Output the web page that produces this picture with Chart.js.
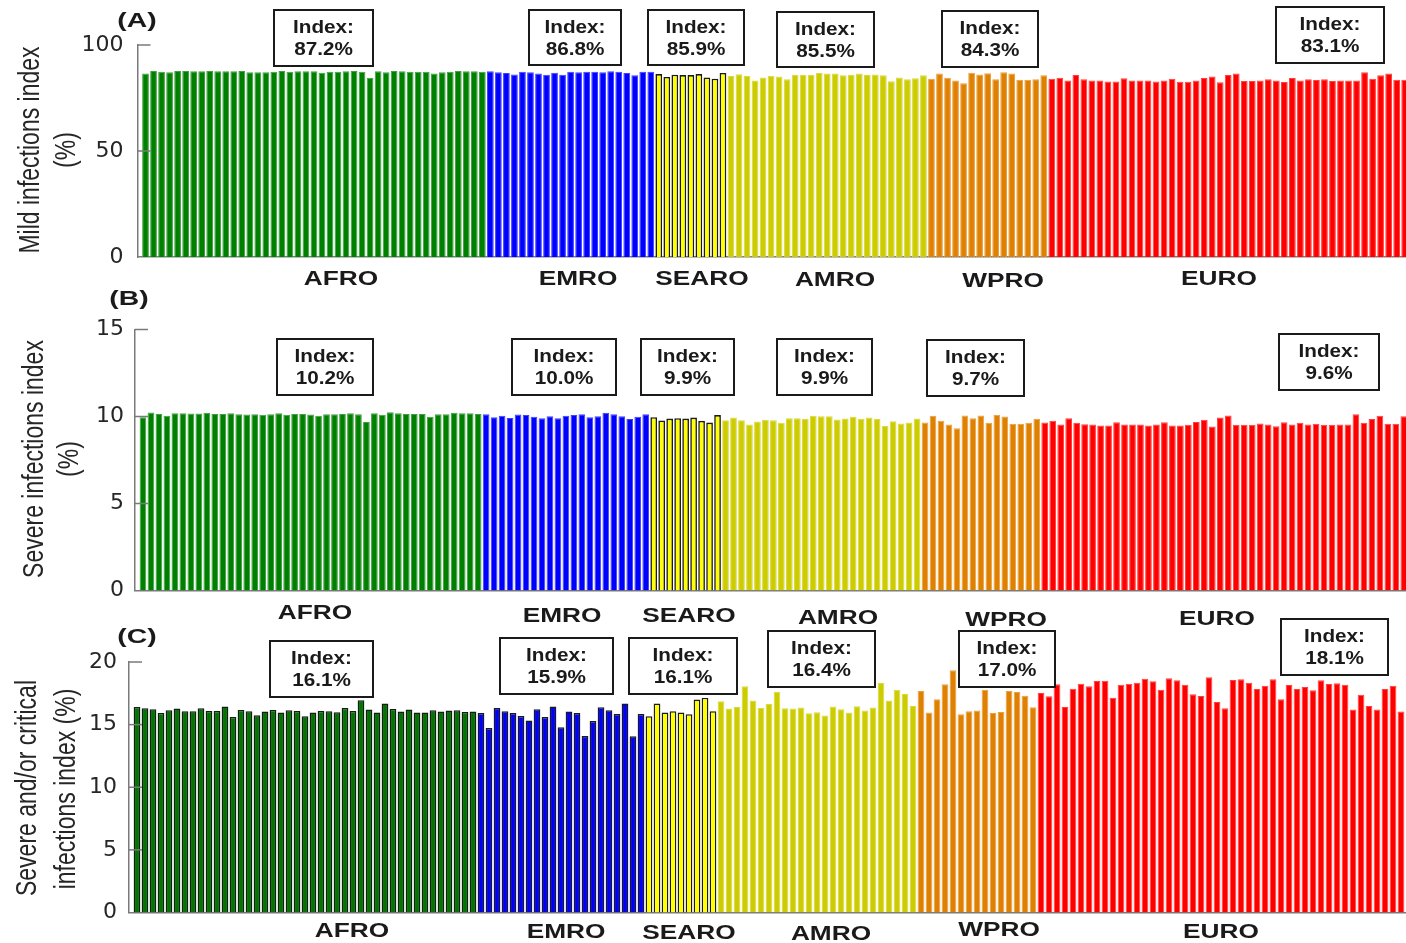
<!DOCTYPE html>
<html><head><meta charset="utf-8">
<script src="https://cdn.jsdelivr.net/npm/chart.js@4.4.1/dist/chart.umd.min.js"></script>
<style>
html,body{margin:0;padding:0;background:#fff;overflow:hidden;width:1406px;height:943px;}
canvas{position:absolute;left:0;top:0;}
</style></head><body>
<canvas id="cA"></canvas><canvas id="cB"></canvas><canvas id="cC"></canvas>
<script>
// ---------------- DATA ----------------
const regions = ['AFRO','EMRO','SEARO','AMRO','WPRO','EURO'];

// (A) Mild infections index (%) per country, grouped by WHO region
const mildAFRO  = [86.5,87.7,87.4,87.1,87.7,87.7,87.6,87.6,87.7,87.6,87.6,87.6,87.7,87.2,87.2,87.2,87.4,87.7,87.4,87.6,87.6,87.6,86.9,87.4,87.4,87.6,87.7,87.4,84.6,87.6,87.2,87.7,87.6,87.4,87.4,87.4,86.6,87.2,87.4,87.7,87.6,87.6,87.4];
const mildEMRO  = [87.6,87.1,86.8,86.1,87.4,87.1,86.6,86.0,86.9,86.0,87.4,87.1,87.4,87.4,87.1,87.6,87.4,86.8,85.7,87.4,87.4];
const mildSEARO = [86.3,84.9,86.0,85.8,85.8,86.3,84.7,84.1,86.8];
const mildAMRO  = [85.4,86.2,85.4,83.3,84.7,85.5,85.2,83.8,86.0,86.0,86.0,86.8,86.6,86.6,85.7,86.0,86.5,85.8,86.1,85.7,82.9,84.7,83.8,84.3,85.7];
const mildWPRO  = [84.1,86.6,84.6,83.2,81.9,86.9,86.1,86.7,83.9,87.1,86.6,83.6,83.6,83.9,85.7];
const mildEURO  = [84.1,84.6,83.2,85.8,83.8,83.3,83.3,82.8,82.8,84.3,83.3,83.3,83.3,82.8,83.2,84.1,82.7,82.7,83.2,84.4,85.2,82.4,85.8,86.6,83.0,83.0,83.2,83.8,83.3,82.5,84.4,83.3,83.8,83.5,83.8,83.0,83.2,83.3,83.3,87.1,84.1,85.7,86.6,83.6,83.6];
const mildIndex = ['87.2%','86.8%','85.9%','85.5%','84.3%','83.1%'];
const mildTicks = [0,50,100];

// (B) Severe infections index (%)
const severeAFRO  = [9.96,10.23,10.15,10.04,10.19,10.19,10.17,10.17,10.21,10.15,10.15,10.19,10.13,10.12,10.13,10.10,10.13,10.19,10.10,10.15,10.15,10.12,10.04,10.13,10.13,10.15,10.19,10.13,9.69,10.19,10.10,10.25,10.19,10.15,10.15,10.15,9.98,10.13,10.13,10.21,10.19,10.19,10.15];
const severeEMRO  = [10.13,9.96,10.04,9.92,10.12,10.08,9.98,9.90,10.02,9.90,10.04,10.08,10.13,9.96,10.02,10.21,10.13,10.02,9.85,9.98,10.13];
const severeSEARO = [9.96,9.77,9.88,9.90,9.88,9.94,9.75,9.65,10.08];
const severeAMRO  = [9.79,9.94,9.79,9.54,9.71,9.81,9.79,9.64,9.90,9.90,9.87,10.04,10.02,10.02,9.83,9.88,9.98,9.87,9.94,9.85,9.46,9.73,9.60,9.65,9.88];
const severeWPRO  = [9.65,10.04,9.75,9.54,9.33,10.06,9.90,10.06,9.64,10.10,10.00,9.58,9.58,9.64,9.87];
const severeEURO  = [9.65,9.75,9.54,9.90,9.64,9.56,9.54,9.48,9.48,9.67,9.54,9.54,9.54,9.48,9.54,9.67,9.48,9.48,9.52,9.69,9.81,9.42,9.94,10.06,9.52,9.52,9.52,9.60,9.54,9.44,9.67,9.54,9.64,9.54,9.58,9.52,9.52,9.54,9.54,10.13,9.64,9.85,10.04,9.58,9.58,10.02];
const severeIndex = ['10.2%','10.0%','9.9%','9.9%','9.7%','9.6%'];
const severeTicks = [0,5,10,15];

// (C) Severe and/or critical infections index (%)
const critAFRO  = [16.41,16.30,16.22,15.93,16.14,16.28,16.06,16.06,16.30,16.09,16.09,16.44,15.61,16.17,16.06,15.74,16.04,16.17,15.96,16.14,16.09,15.67,15.96,16.09,16.06,15.98,16.33,16.09,16.94,16.20,15.96,16.68,16.25,16.04,16.20,15.96,15.96,16.14,16.04,16.12,16.14,16.01,16.04];
const critEMRO  = [15.93,14.73,16.33,16.06,15.93,15.69,15.32,16.22,15.61,16.44,14.79,16.04,15.93,14.10,15.29,16.38,16.14,15.85,16.68,14.07,15.85];
const critSEARO = [15.67,16.68,15.96,16.06,15.96,15.82,17.00,17.13,16.06];
const critAMRO  = [16.86,16.28,16.41,18.06,16.92,16.33,16.65,17.63,16.30,16.28,16.36,15.90,15.98,15.72,16.44,16.22,15.96,16.46,16.12,16.36,18.33,16.92,17.79,17.45,16.49];
const critWPRO  = [17.69,15.96,17.02,18.22,19.34,15.82,16.06,16.12,17.79,15.93,16.01,17.69,17.61,17.31,16.38];
const critEURO  = [17.53,17.26,18.22,16.41,17.87,18.27,18.06,18.48,18.51,17.15,18.19,18.27,18.35,18.67,18.46,17.79,18.70,18.54,18.19,17.42,17.29,18.78,16.81,16.30,18.56,18.62,18.35,17.85,18.11,18.62,17.02,18.17,17.85,18.01,17.74,18.54,18.25,18.30,18.19,16.20,17.39,16.49,16.20,17.85,18.11,16.04];
const critIndex = ['16.1%','15.9%','16.1%','16.4%','17.0%','18.1%'];
const critTicks = [0,5,10,15,20];

// ---------------- STYLE ----------------
const AX = '#7a7a7a';
const INK = '#1a1a1a';
const fillAB = ['#008000','#0000ff','#ffff00','#cccc00','#e08000','#ff0000'];
const edgeAB = ['#40a040','#4040ff','#1a1a1a','#d9d940','#e8a040','#ff4040'];
const edgeWAB = [1,1,1.6,1,1,1];
const fillC  = ['#007600','#0000ff','#ffff00','#cccc00','#e08000','#ff0000'];
const edgeC  = ['#1a1a1a','#1a1a1a','#1a1a1a','#d9d940','#e8a040','#ff4040'];
const edgeWC = [1.4,1.4,1.4,1,1,1];

function txt(ctx, s, x, y, font, sx, rot) {
  ctx.save();
  ctx.translate(x, y);
  if (rot) { ctx.rotate(-Math.PI / 2); ctx.scale(1, sx); } else { ctx.scale(sx, 1); }
  ctx.font = font;
  ctx.textAlign = 'center';
  ctx.textBaseline = 'middle';
  ctx.fillText(s, 0, 0);
  ctx.restore();
}

const annotPlugin = {
  id: 'annot',
  afterDraw(chart, args, o) {
    const ctx = chart.ctx, ca = chart.chartArea, ys = chart.scales.y;
    ctx.save();
    // inward tick marks
    ctx.strokeStyle = AX; ctx.lineWidth = 1.5;
    ys.ticks.forEach(t => {
      if (t.value === 0) return;
      const py = ys.getPixelForValue(t.value);
      ctx.beginPath(); ctx.moveTo(ca.left, py); ctx.lineTo(ca.left + 13, py); ctx.stroke();
    });
    // panel letter
    ctx.fillStyle = INK;
    txt(ctx, o.letter[0], o.letter[1], o.letter[2], 'bold 21px "Liberation Sans", Arial, sans-serif', 1.35, false);
    // y titles
    ctx.fillStyle = '#262626';
    o.yTitle.forEach(l => txt(ctx, l[0], l[1], l[2], '23px "Liberation Sans", Arial, sans-serif', 1.25, true));
    // region labels
    ctx.fillStyle = INK;
    o.regionPos.forEach((p, i) => txt(ctx, regions[i], p[0], p[1], 'bold 21px "Liberation Sans", Arial, sans-serif', 1.25, false));
    // index boxes
    o.boxes.forEach((b, i) => {
      const [x0, y0, x1, y1] = b;
      ctx.fillStyle = '#fff';
      ctx.fillRect(x0, y0, x1 - x0, y1 - y0);
      ctx.strokeStyle = INK; ctx.lineWidth = 2;
      ctx.strokeRect(x0, y0, x1 - x0, y1 - y0);
      ctx.fillStyle = INK;
      const cx = (x0 + x1) / 2;
      txt(ctx, 'Index:', cx, y0 + 18, 'bold 18px "Liberation Sans", Arial, sans-serif', 1.15, false);
      txt(ctx, o.index[i], cx, y0 + 40, 'bold 18px "Liberation Sans", Arial, sans-serif', 1.15, false);
    });
    ctx.restore();
  }
};

function buildPanel(id, p) {
  const values = [], fills = [], edges = [], bws = [];
  p.series.forEach((arr, r) => arr.forEach(v => {
    values.push(v); fills.push(p.fill[r]); edges.push(p.edge[r]); bws.push(p.edgeW[r]);
  }));
  const data = values.map((v, i) => ({ x: i + 1, y: v }));
  const W = 1430, H = 943;
  const cv = document.getElementById(id);
  cv.width = W; cv.height = H;
  new Chart(cv, {
    type: 'bar',
    data: { datasets: [{
      data, backgroundColor: fills, borderColor: edges, borderWidth: bws,
      barPercentage: 0.84, categoryPercentage: 1.0
    }]},
    options: {
      responsive: false, animation: false, events: [],
      layout: { padding: { left: 0, top: p.top, right: W - p.right, bottom: H - p.bottom } },
      plugins: { legend: { display: false }, tooltip: { enabled: false }, annot: p },
      scales: {
        x: {
          type: 'linear', min: 0, max: 160, offset: false,
          ticks: { display: false },
          grid: { display: false, drawTicks: false },
          border: { display: true, color: AX, width: 1.5 },
          afterFit: s => { s.height = 0; }
        },
        y: {
          min: 0, max: p.ticks[p.ticks.length - 1],
          afterBuildTicks: s => { s.ticks = p.ticks.map(v => ({ value: v })); },
          ticks: { padding: p.tickPad, color: '#262626', font: { family: 'DejaVu Sans', size: 22 } },
          grid: { display: false, drawTicks: false },
          border: { display: true, color: AX, width: 1.5 },
          afterFit: s => { s.width = p.left; }
        }
      }
    },
    plugins: [annotPlugin]
  });
}

buildPanel('cA', {
  series: [mildAFRO, mildEMRO, mildSEARO, mildAMRO, mildWPRO, mildEURO],
  fill: fillAB, edge: edgeAB, edgeW: edgeWAB, ticks: mildTicks, index: mildIndex, tickPad: 14,
  left: 137.5, right: 137.5 + 8.02 * 160, top: 45, bottom: 257,
  letter: ['(A)', 137, 21],
  yTitle: [['Mild infections index', 31, 150], ['(%)', 67, 150]],
  regionPos: [[341,279],[578,279],[702,279],[835,280],[1003,281],[1219,279]],
  boxes: [[274,10,373,66],[529,10,621,65],[648,10,744,65],[777,12,874,67],[942,11,1038,67],[1276,7,1384,63]]
});

buildPanel('cB', {
  series: [severeAFRO, severeEMRO, severeSEARO, severeAMRO, severeWPRO, severeEURO],
  fill: fillAB, edge: edgeAB, edgeW: edgeWAB, ticks: severeTicks, index: severeIndex, tickPad: 11,
  left: 135, right: 135 + 7.98 * 160, top: 329.5, bottom: 590.5,
  letter: ['(B)', 129, 299],
  yTitle: [['Severe infections index', 35, 459], ['(%)', 70, 459]],
  regionPos: [[315,613],[562,616],[689,616],[838,618],[1006,620],[1217,619]],
  boxes: [[277,339,373,395],[512,339,616,395],[641,339,734,395],[777,339,872,395],[927,340,1024,396],[1279,334,1379,390]]
});

buildPanel('cC', {
  series: [critAFRO, critEMRO, critSEARO, critAMRO, critWPRO, critEURO],
  fill: fillC, edge: edgeC, edgeW: edgeWC, ticks: critTicks, index: critIndex, tickPad: 12,
  left: 129, right: 129 + 8 * 160, top: 662, bottom: 912.5,
  letter: ['(C)', 137, 637],
  yTitle: [['Severe and/or critical', 28, 788], ['infections index (%)', 67, 789]],
  regionPos: [[352,931],[566,932],[689,933],[831,934],[999,930],[1221,932]],
  boxes: [[270,641,373,697],[500,638,613,694],[629,638,737,694],[768,631,875,687],[959,631,1055,687],[1281,619,1388,675]]
});
</script>
</body></html>
